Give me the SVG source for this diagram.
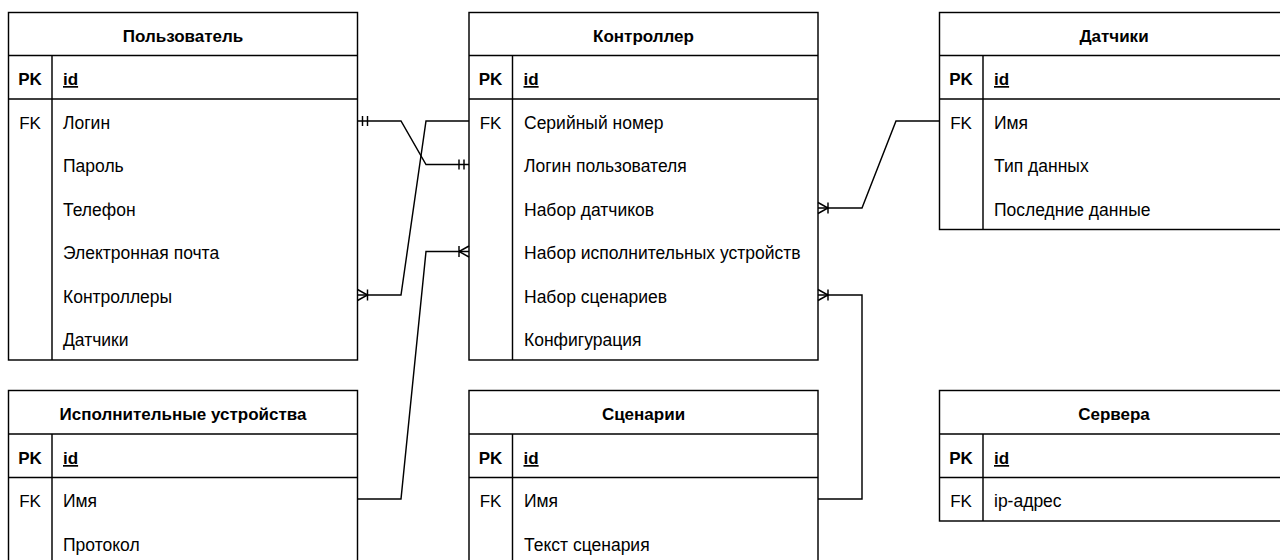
<svg xmlns="http://www.w3.org/2000/svg" width="1280" height="560" viewBox="0 0 1280 560">
<style>
.box{fill:#fff;stroke:#000;stroke-width:1.45}
.ln{stroke:#000;stroke-width:1.45;fill:none}
.h{font-family:"Liberation Sans",Arial,sans-serif;font-size:17px;font-weight:bold;text-anchor:middle;fill:#000}
.k{font-family:"Liberation Sans",Arial,sans-serif;font-size:17px;text-anchor:middle;fill:#000}
.kb{font-family:"Liberation Sans",Arial,sans-serif;font-size:17px;font-weight:bold;text-anchor:middle;fill:#000}
.t{font-family:"Liberation Sans",Arial,sans-serif;font-size:17.5px;fill:#000}
.id{font-family:"Liberation Sans",Arial,sans-serif;font-size:17px;font-weight:bold;text-decoration:underline;fill:#000}
.c{stroke:#000;stroke-width:1.45;fill:none}
</style>
<defs>
<marker id="one" markerUnits="userSpaceOnUse" orient="auto-start-reverse" refX="0" refY="0" markerWidth="1" markerHeight="1" overflow="visible">
<path d="M-5,-5V5M-10,-5V5" stroke="#000" stroke-width="1.45" fill="none"/>
</marker>
<marker id="many" markerUnits="userSpaceOnUse" orient="auto-start-reverse" refX="0" refY="0" markerWidth="1" markerHeight="1" overflow="visible">
<path d="M0,-5.5L-10,0L0,5.5M-10,-5.5V5.5" stroke="#000" stroke-width="1.45" fill="none"/>
</marker>
</defs>
<rect width="1280" height="560" fill="#fff"/>

<g id="user">
<rect class="box" x="8.5" y="12.5" width="349" height="347.5"/>
<path class="ln" d="M8.5,55.5H357.5M8.5,99H357.5M52,55.5V360"/>
<text class="h" x="183" y="42">Пользователь</text>
<text class="kb" x="30" y="85">PK</text>
<text class="id" x="63" y="85">id</text>
<text class="k" x="30" y="129">FK</text>
<text class="t" x="63" y="129">Логин</text>
<text class="t" x="63" y="172">Пароль</text>
<text class="t" x="63" y="216">Телефон</text>
<text class="t" x="63" y="259">Электронная почта</text>
<text class="t" x="63" y="303">Контроллеры</text>
<text class="t" x="63" y="346">Датчики</text>
</g>

<g id="controller">
<rect class="box" x="469" y="12.5" width="349" height="347.5"/>
<path class="ln" d="M469,55.5H818M469,99H818M512.5,55.5V360"/>
<text class="h" x="643.5" y="42">Контроллер</text>
<text class="kb" x="490.5" y="85">PK</text>
<text class="id" x="523.5" y="85">id</text>
<text class="k" x="490.5" y="129">FK</text>
<text class="t" x="524" y="129">Серийный номер</text>
<text class="t" x="524" y="172">Логин пользователя</text>
<text class="t" x="524" y="216">Набор датчиков</text>
<text class="t" x="524" y="259">Набор исполнительных устройств</text>
<text class="t" x="524" y="303">Набор сценариев</text>
<text class="t" x="524" y="346">Конфигурация</text>
</g>

<g id="sensors">
<rect class="box" x="939.5" y="12.5" width="349" height="217"/>
<path class="ln" d="M939.5,55.5H1288.5M939.5,99H1288.5M983,55.5V229.5"/>
<text class="h" x="1114" y="42">Датчики</text>
<text class="kb" x="961" y="85">PK</text>
<text class="id" x="994" y="85">id</text>
<text class="k" x="961" y="129">FK</text>
<text class="t" x="994" y="129">Имя</text>
<text class="t" x="994" y="172">Тип данных</text>
<text class="t" x="994" y="216">Последние данные</text>
</g>

<g id="actuators">
<rect class="box" x="8.5" y="390.5" width="349" height="180"/>
<path class="ln" d="M8.5,434H357.5M8.5,477.5H357.5M52,434V570"/>
<text class="h" x="183" y="420">Исполнительные устройства</text>
<text class="kb" x="30" y="464">PK</text>
<text class="id" x="63" y="464">id</text>
<text class="k" x="30" y="507">FK</text>
<text class="t" x="63" y="507">Имя</text>
<text class="t" x="63" y="551">Протокол</text>
</g>

<g id="scenarios">
<rect class="box" x="469" y="390.5" width="349" height="180"/>
<path class="ln" d="M469,434H818M469,477.5H818M512.5,434V570"/>
<text class="h" x="643.5" y="420">Сценарии</text>
<text class="kb" x="490.5" y="464">PK</text>
<text class="id" x="523.5" y="464">id</text>
<text class="k" x="490.5" y="507">FK</text>
<text class="t" x="524" y="507">Имя</text>
<text class="t" x="524" y="551">Текст сценария</text>
</g>

<g id="servers">
<rect class="box" x="939.5" y="390.5" width="349" height="130.5"/>
<path class="ln" d="M939.5,434H1288.5M939.5,477.5H1288.5M983,434V521"/>
<text class="h" x="1114" y="420">Сервера</text>
<text class="kb" x="961" y="464">PK</text>
<text class="id" x="994" y="464">id</text>
<text class="k" x="961" y="507">FK</text>
<text class="t" x="994" y="507">ip-адрес</text>
</g>

<g id="connectors">
<path class="c" d="M357.5,121H401L426,164.5H469" marker-start="url(#one)" marker-end="url(#one)"/>
<path class="c" d="M469,121H426L401,295H357.5" marker-end="url(#many)"/>
<path class="c" d="M357.5,499H401L426,251.5H469" marker-end="url(#many)"/>
<path class="c" d="M939.5,121H896L862,208H818" marker-end="url(#many)"/>
<path class="c" d="M818,499H862V295H818" marker-end="url(#many)"/>
</g>
</svg>
